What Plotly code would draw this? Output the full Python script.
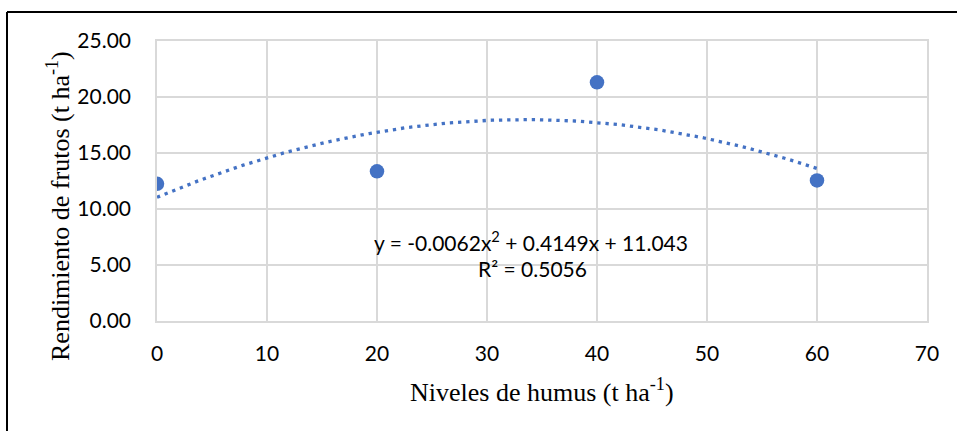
import numpy as np
import plotly.graph_objects as go

# Data
humus_levels = [0, 20, 40, 60]
yield_values = [12.25, 13.37, 21.31, 12.55]

# Trendline shown in chart (polynomial order 2) and its label
trend_coefs = [-0.0062, 0.4149, 11.043]
eq_text = "y = -0.0062x<sup>2</sup> + 0.4149x + 11.043"
r2_text = "R² = 0.5056"

x_ticks = [0, 10, 20, 30, 40, 50, 60, 70]
y_ticks = [0, 5, 10, 15, 20, 25]
y_tick_labels = ["0.00", "5.00", "10.00", "15.00", "20.00", "25.00"]

BLUE = "#4472C4"
GRID = "#D9D9D9"

W, H = 957, 431
L, R, T, B = 157, 30, 41, 110
PW, PH = W - L - R, H - T - B


def px_x(p):
    return (p - L) / PW


def px_y(p):
    return (H - B - p) / PH


tx = np.linspace(min(humus_levels), max(humus_levels), 200)
ty = np.polyval(trend_coefs, tx)

fig = go.Figure()
fig.add_trace(go.Scatter(
    x=tx, y=ty, mode="lines",
    line=dict(color=BLUE, width=3.3, dash="3.3px,4.9px"),
    hoverinfo="skip", showlegend=False,
))
fig.add_trace(go.Scatter(
    x=humus_levels, y=yield_values, mode="markers",
    marker=dict(color=BLUE, size=14.5, line=dict(width=0)),
    showlegend=False,
))

tick_font = dict(family="Lato", size=21, color="#000000")
title_font = dict(family="Liberation Serif", size=26, color="#000000")

fig.update_xaxes(
    range=[0, 70], tickvals=x_ticks, ticktext=[str(v) for v in x_ticks],
    showgrid=True, gridcolor=GRID, gridwidth=1.5,
    showline=True, linecolor=GRID, linewidth=1.5, mirror=True,
    zeroline=False, ticks="", tickfont=tick_font, ticklabelstandoff=13,
    fixedrange=True,
)
fig.update_yaxes(
    range=[0, 25], tickvals=y_ticks, ticktext=y_tick_labels,
    showgrid=True, gridcolor=GRID, gridwidth=1.5,
    showline=True, linecolor=GRID, linewidth=1.5, mirror=True,
    zeroline=False, ticks="", tickfont=tick_font, ticklabelstandoff=20,
    fixedrange=True,
)

annotations = [
    dict(text=eq_text, x=px_x(531), y=px_y(241), xref="paper", yref="paper",
         xanchor="center", yanchor="middle", showarrow=False,
         font=dict(family="Lato", size=21, color="#000000")),
    dict(text=r2_text, x=px_x(532), y=px_y(268), xref="paper", yref="paper",
         xanchor="center", yanchor="middle", showarrow=False,
         font=dict(family="Lato", size=21, color="#000000")),
    dict(text="Niveles de humus (t ha<sup>-1</sup>)", x=px_x(541.5), y=px_y(390),
         xref="paper", yref="paper", xanchor="center", yanchor="middle",
         showarrow=False, font=title_font),
    dict(text="Rendimiento de frutos (t ha<sup>-1</sup>)", x=px_x(58), y=px_y(206),
         xref="paper", yref="paper", xanchor="center", yanchor="middle",
         showarrow=False, textangle=-90, font=title_font),
]

shapes = [
    dict(type="line", xref="paper", yref="paper", x0=px_x(7), x1=px_x(970),
         y0=px_y(12), y1=px_y(12), line=dict(color="#000000", width=2)),
    dict(type="line", xref="paper", yref="paper", x0=px_x(7), x1=px_x(7),
         y0=px_y(12), y1=px_y(450), line=dict(color="#000000", width=2)),
]

fig.update_layout(
    width=W, height=H,
    margin=dict(l=L, r=R, t=T, b=B, pad=0),
    paper_bgcolor="#FFFFFF", plot_bgcolor="#FFFFFF",
    annotations=annotations, shapes=shapes,
    showlegend=False,
)

fig.write_html(
    "out.html",
    config={"displayModeBar": False},
    post_script="document.body.style.margin='0';document.body.style.overflow='hidden';",
)
